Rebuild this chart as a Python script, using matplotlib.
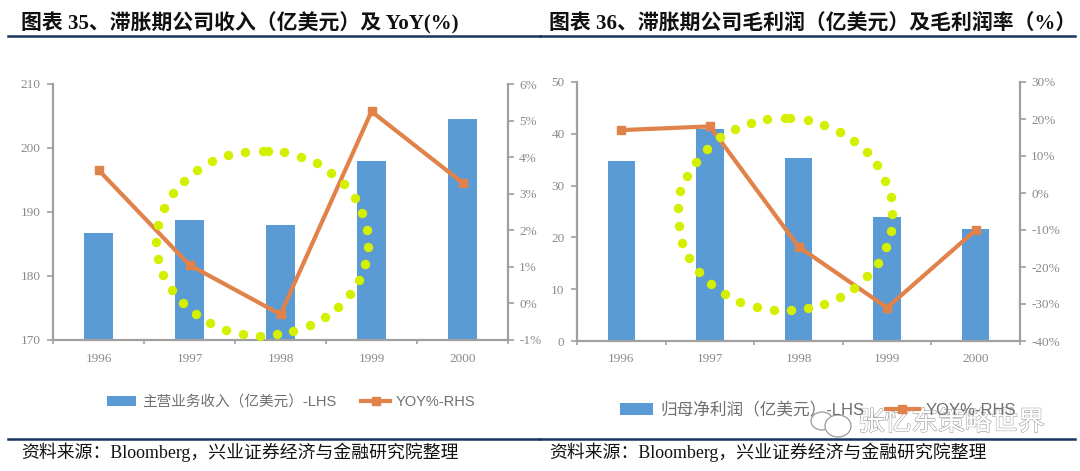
import matplotlib
matplotlib.use("Agg")
from matplotlib import pyplot as plt
from matplotlib import patheffects
from matplotlib.patches import Ellipse

W, H = 1080, 471
CJK_SERIF = ['Liberation Serif', 'Noto Sans CJK SC']
CJK_SANS = ['Liberation Sans', 'Noto Sans CJK SC']

years = ['1996', '1997', '1998', '1999', '2000']

# left chart
revenue = [186.7, 188.7, 188.0, 198.0, 204.5]
revenue_yoy = [3.65, 1.05, -0.3, 5.25, 3.3]
revenue_ticks = [170, 180, 190, 200, 210]
revenue_yoy_ticks = [-1, 0, 1, 2, 3, 4, 5, 6]
circle1_x = [0.636, 0.655, 0.723, 0.818, 0.943, 1.083, 1.25, 1.428, 1.61, 1.807, 1.86, 2.04, 2.227, 2.40, 2.557,
             2.697, 2.814, 2.898, 2.951, 2.958, 2.932, 2.867, 2.765, 2.636, 2.489, 2.322, 2.14, 1.962, 1.773,
             1.583, 1.402, 1.227, 1.068, 0.924, 0.803, 0.712, 0.655]
circle1_y = [185.3, 188.0, 190.6, 192.9, 194.9, 196.6, 197.9, 198.9, 199.4, 199.6, 199.6, 199.3, 198.6, 197.6, 196.1,
             194.3, 192.2, 189.8, 187.2, 184.6, 181.9, 179.4, 177.2, 175.2, 173.6, 172.3, 171.4, 170.9, 170.7,
             171.0, 171.6, 172.7, 174.0, 175.8, 177.8, 180.2, 182.7]

# right chart
profit = [34.8, 41.0, 35.3, 24.0, 21.7]
profit_yoy = [17, 18, -14.5, -31, -10]
profit_ticks = [0, 10, 20, 30, 40, 50]
profit_yoy_ticks = [-40, -30, -20, -10, 0, 10, 20, 30]
circle2_x = [3.059, 3.039, 2.985, 2.892, 2.775, 2.627, 2.468, 2.286, 2.103, 1.913, 1.718, 1.528, 1.345, 1.174, 1.015,
             0.879, 0.767, 0.689, 0.646, 0.638, 0.666, 0.739, 0.84, 0.969, 1.112, 1.287, 1.466, 1.648, 1.847, 1.905,
             2.103, 2.286, 2.464, 2.624, 2.771, 2.888, 2.981, 3.039]
circle2_y = [24.5, 21.3, 18.1, 15.1, 12.5, 10.3, 8.5, 7.2, 6.4, 5.9, 6.0, 6.6, 7.6, 9.1, 11.1,
             13.3, 16.0, 19.0, 22.2, 25.6, 28.9, 31.9, 34.6, 37.1, 39.3, 40.9, 42.1, 42.8, 43.0, 43.0,
             42.6, 41.7, 40.4, 38.6, 36.4, 33.9, 30.9, 27.8]

BAR = '#5b9bd5'
LINE = '#e0824a'
AXIS = '#a0a0a0'
LABEL = '#8a8a8a'
RULE = '#17365d'
DOT = '#d4f000'


def px_axes(x0, y0, x1, y1):
    return [x0 / W, 1 - y1 / H, (x1 - x0) / W, (y1 - y0) / H]


def draw_chart(rect, bars, line, lticks, rticks, rfmt, dots_x, dots_y, bar_label, legend_y, legend_x, legend_size,
               column_gap):
    ax = fig.add_axes(px_axes(*rect))
    ax.bar(range(5), bars, width=0.31, color=BAR, label=bar_label, zorder=2)
    ax.set_xlim(-0.5, 4.5)
    ax.set_ylim(lticks[0], lticks[-1])
    ax.set_yticks(lticks)
    ax.set_xticks([-0.5, 0.5, 1.5, 2.5, 3.5, 4.5])
    ax.set_xticklabels([])
    ax.set_xticks(range(5), minor=True)
    ax.set_xticklabels(years, minor=True)
    ax.tick_params(axis='x', which='major', length=3, width=1.2, color=AXIS)
    ax.tick_params(axis='x', which='minor', length=0, pad=9, labelsize=9.5, labelcolor=LABEL)
    ax.tick_params(axis='y', length=4, width=1.2, color=AXIS, labelsize=9.5, labelcolor=LABEL, pad=5)
    for lab in ax.get_xticklabels(minor=True) + ax.get_yticklabels():
        lab.set_family('Liberation Serif')
    ax.spines['top'].set_visible(False)
    ax.spines['right'].set_visible(False)
    for s in ['left', 'bottom']:
        ax.spines[s].set_color(AXIS)
        ax.spines[s].set_linewidth(1.6)

    ax2 = ax.twinx()
    ax2.plot(range(5), line, color=LINE, lw=3, marker='s', ms=6, mfc=LINE, mec=LINE, label='YOY%-RHS', zorder=3)
    ax2.set_ylim(rticks[0], rticks[-1])
    ax2.set_yticks(rticks)
    ax2.set_yticklabels([rfmt % t for t in rticks], family='Liberation Serif')
    ax2.tick_params(axis='y', length=4, width=1.2, color=AXIS, labelsize=9.5, labelcolor=LABEL, pad=4)
    for s in ['top', 'left', 'bottom']:
        ax2.spines[s].set_visible(False)
    ax2.spines['right'].set_color(AXIS)
    ax2.spines['right'].set_linewidth(1.6)

    # dotted yellow ring sits on top of everything, drawn against the left scale
    ax3 = ax.twinx()
    ax3.set_ylim(ax.get_ylim())
    ax3.axis('off')
    ax3.scatter(dots_x, dots_y, s=46, color=DOT, linewidths=0, clip_on=False, zorder=5)

    h1, l1 = ax.get_legend_handles_labels()
    h2, l2 = ax2.get_legend_handles_labels()
    fig.legend(h1 + h2, l1 + l2, loc='center left', bbox_to_anchor=(legend_x / W, 1 - legend_y / H), ncol=2,
               frameon=False, prop={'family': CJK_SANS, 'size': legend_size}, labelcolor='#6f6f6f',
               handlelength=2.0, handletextpad=0.4, columnspacing=column_gap, borderpad=0, borderaxespad=0)


fig = plt.figure(figsize=(W / 100, H / 100), dpi=100)

draw_chart((53, 84, 508, 340), revenue, revenue_yoy, revenue_ticks, revenue_yoy_ticks, '%d%%',
           circle1_x, circle1_y, '主营业务收入（亿美元）-LHS', 402, 107, 10.5, 1.7)
draw_chart((577, 82, 1020, 341), profit, profit_yoy, profit_ticks, profit_yoy_ticks, '%d%%',
           circle2_x, circle2_y, '归母净利润（亿美元）-LHS', 410, 620, 12, 1.3)

fig.text(21 / W, 1 - 23 / H, '图表 35、滞胀期公司收入（亿美元）及 YoY(%)', family=CJK_SERIF, weight='bold',
         fontsize=15, va='center', color='#111111')
fig.text(549 / W, 1 - 23 / H, '图表 36、滞胀期公司毛利润（亿美元）及毛利润率（%）', family=CJK_SERIF, weight='bold',
         fontsize=15, va='center', color='#111111')
fig.text(21 / W, 1 - 452 / H, '资料来源：Bloomberg，兴业证券经济与金融研究院整理', family=CJK_SERIF,
         fontsize=12.85, va='center', color='#111111')
fig.text(549 / W, 1 - 452 / H, '资料来源：Bloomberg，兴业证券经济与金融研究院整理', family=CJK_SERIF,
         fontsize=12.85, va='center', color='#111111')

# header and footer rules
for x0, x1 in [(8, 540), (540, 1075)]:
    for y in [36, 439]:
        fig.add_artist(plt.Line2D([x0 / W, x1 / W], [1 - y / H, 1 - y / H], color=RULE, lw=1.8))

# watermark
for cx, cy, w, h in [(822, 421, 22, 18), (838, 426, 26, 22)]:
    fig.add_artist(Ellipse((cx / W, 1 - cy / H), w / W, h / H, facecolor='white', edgecolor='#9a9a9a',
                           lw=0.9, transform=fig.transFigure))
wm = fig.text(858 / W, 1 - 423 / H, '张忆东策略世界', family=CJK_SANS, fontsize=19.2, va='center',
              color='white', alpha=0.95)
wm.set_path_effects([patheffects.withStroke(linewidth=1.0, foreground='#9a9a9a'), patheffects.Normal()])

fig.savefig('out.png', dpi=100)
